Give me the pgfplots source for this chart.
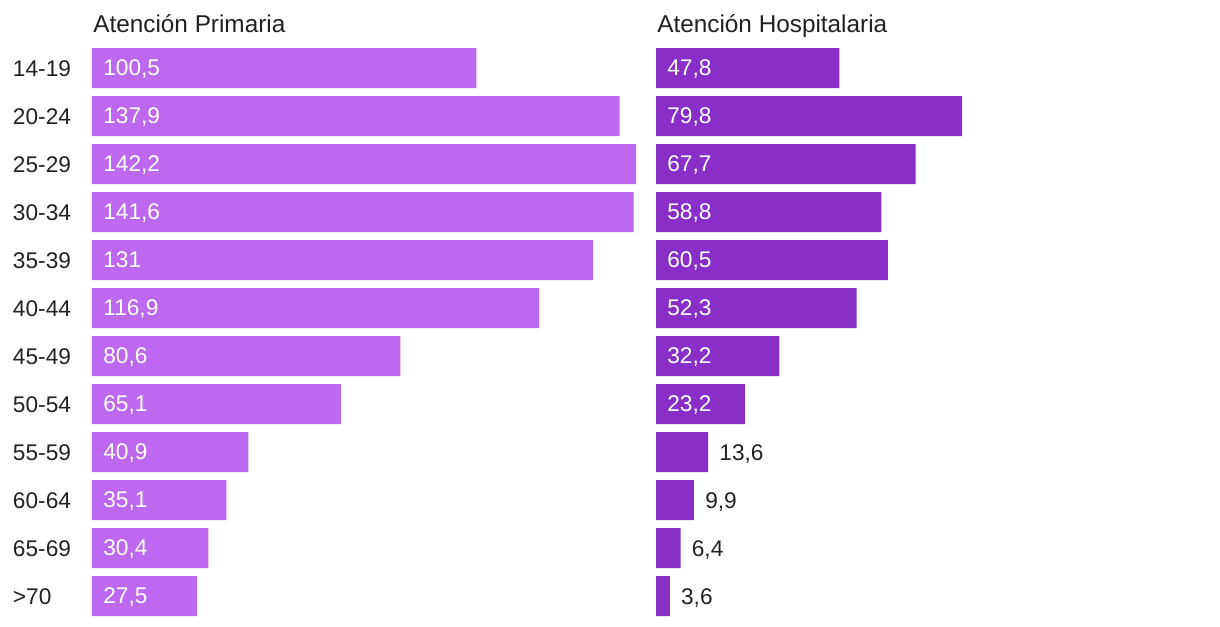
\documentclass[border=0pt]{standalone}
\usepackage{pgfplots}
\usepackage{pgfplotstable}
\pgfplotsset{compat=1.18}
\usepackage{fontspec}
\setmainfont{Liberation Sans}
\definecolor{prim}{HTML}{BD68EE}
\definecolor{hosp}{HTML}{8A2EC8}
\definecolor{txt}{HTML}{212121}
\pgfplotstableread{
y x z lab
0 100.5 0 100,5
1 137.9 0 137,9
2 142.2 0 142,2
3 141.6 0 141,6
4 131 0 131
5 116.9 0 116,9
6 80.6 0 80,6
7 65.1 0 65,1
8 40.9 0 40,9
9 35.1 0 35,1
10 30.4 0 30,4
11 27.5 0 27,5
}\prim
\pgfplotstableread{
y x z lab
0 47.8 0 47,8
1 79.8 0 79,8
2 67.7 0 67,7
3 58.8 0 58,8
4 60.5 0 60,5
5 52.3 0 52,3
6 32.2 0 32,2
7 23.2 0 23,2
}\hospin
\pgfplotstableread{
y x z lab
8 13.6 0 13,6
9 9.9 0 9,9
10 6.4 0 6,4
11 3.6 0 3,6
}\hospout
\pgfplotsset{
  base/.style={
    scale only axis, height=345.6pt, xmin=0,
    ymin=-0.5, ymax=11.5, y dir=reverse,
    axis line style={draw=none}, tick style={draw=none},
    major tick length=0pt, xtick=\empty, ytick=\empty,
    clip=false, anchor=south west,
    title style={at={(rel axis cs:0,1)}, anchor=base west, inner sep=0pt, yshift=1.2pt, xshift=0.6pt, font=\fontsize{14.6}{18}\selectfont, text=txt},
  },
  barst/.style={xbar, bar width=24pt, bar shift=0pt, draw=none},
  vlab/.style 2 args={only marks, mark=none, point meta=explicit symbolic, nodes near coords,
    nodes near coords style={anchor=base west, inner sep=0pt, xshift=6.6pt, yshift=#2, font=\fontsize{13.6}{16}\selectfont, text=#1}},
}
\begin{document}
\begin{tikzpicture}
\path[use as bounding box] (0,0) rectangle (732pt,375.6pt);
\begin{axis}[base, at={(55.2pt,3.6pt)}, width=326.4pt, xmax=142.2,
  title={Atención Primaria},
  ytick={0,...,11},
  yticklabels={14-19,20-24,25-29,30-34,35-39,40-44,45-49,50-54,55-59,60-64,65-69,>70},
  yticklabel style={anchor=base west, inner sep=0pt, xshift=-47.6pt, yshift=-5.1pt, font=\fontsize{13.6}{16}\selectfont, text=txt}]
\addplot[barst, fill=prim] table[x=x, y=y] {\prim};
\addplot[vlab={white}{-4.3pt}] table[x=z, y=y, meta=lab] {\prim};
\end{axis}
\begin{axis}[base, at={(393.6pt,3.6pt)}, width=183.6pt, xmax=79.8,
  title={Atención Hospitalaria}]
\addplot[barst, fill=hosp] table[x=x, y=y] {\hospin};
\addplot[barst, fill=hosp] table[x=x, y=y] {\hospout};
\addplot[vlab={white}{-4.3pt}] table[x=z, y=y, meta=lab] {\hospin};
\addplot[vlab={txt}{-4.8pt}] table[x=x, y=y, meta=lab] {\hospout};
\end{axis}
\end{tikzpicture}
\end{document}
